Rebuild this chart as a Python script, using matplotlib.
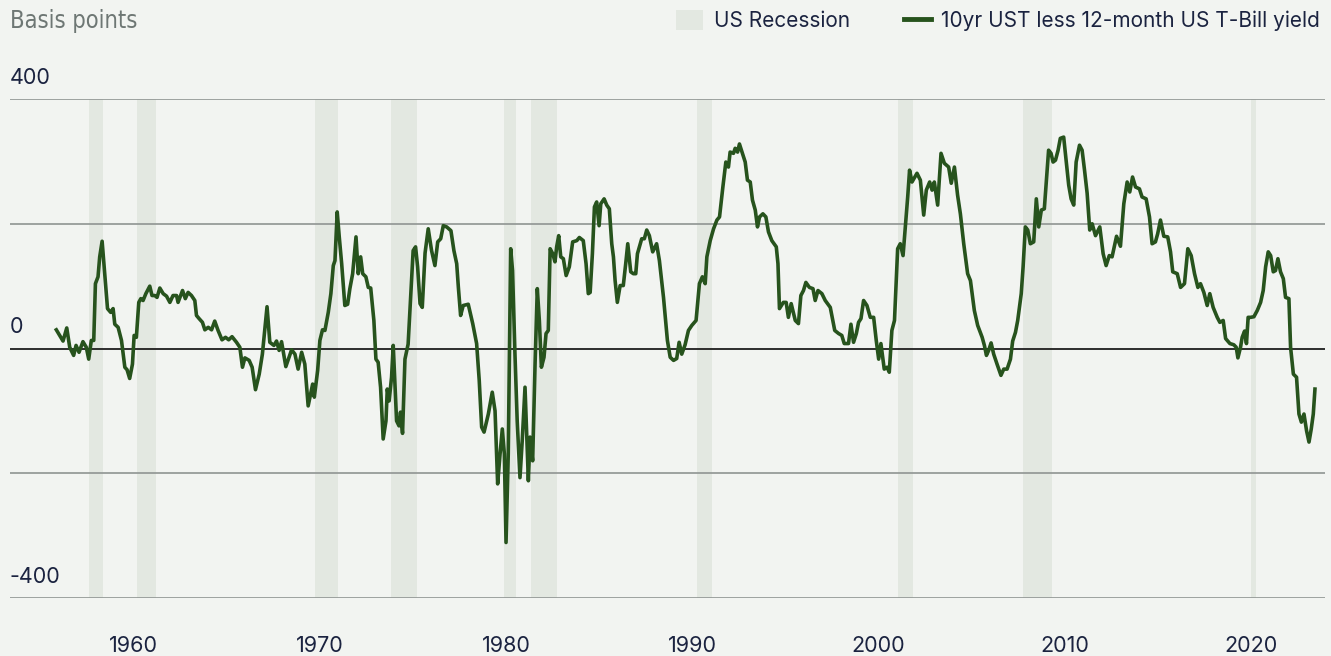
import numpy as np
import matplotlib
matplotlib.use("Agg")
import matplotlib.pyplot as plt
import matplotlib.transforms as mtransforms
from matplotlib.patches import Patch
from matplotlib.lines import Line2D

# -- DATA -- #
# 10yr UST less 12-month T-Bill yield, basis points (decimal year, value)
dates = [
    1955.84, 1956.2, 1956.4, 1956.56, 1956.77, 1956.9, 1957.06, 1957.27, 1957.45, 1957.58,
    1957.72, 1957.85, 1957.94, 1958.08, 1958.17, 1958.3, 1958.44, 1958.59, 1958.76, 1958.89,
    1958.98, 1959.16, 1959.34, 1959.52, 1959.64, 1959.78, 1959.93, 1960.02, 1960.14, 1960.27,
    1960.38, 1960.5, 1960.65, 1960.86, 1960.98, 1961.13, 1961.25, 1961.4, 1961.58, 1961.76,
    1961.94, 1962.11, 1962.3, 1962.38, 1962.62, 1962.77, 1962.92, 1963.1, 1963.28, 1963.37,
    1963.51, 1963.69, 1963.82, 1964.0, 1964.18, 1964.35, 1964.53, 1964.74, 1964.93, 1965.1,
    1965.28, 1965.52, 1965.7, 1965.84, 1965.97, 1966.2, 1966.36, 1966.54, 1966.74, 1966.91,
    1967.16, 1967.31, 1967.53, 1967.67, 1967.81, 1967.94, 1968.17, 1968.48, 1968.66, 1968.83,
    1969.02, 1969.19, 1969.37, 1969.61, 1969.7, 1969.88, 1970.0, 1970.14, 1970.27, 1970.45,
    1970.59, 1970.72, 1970.81, 1970.93, 1971.04, 1971.17, 1971.34, 1971.49, 1971.61, 1971.76,
    1971.94, 1972.06, 1972.19, 1972.3, 1972.47, 1972.6, 1972.73, 1972.9, 1973.01, 1973.13,
    1973.26, 1973.4, 1973.55, 1973.62, 1973.72, 1973.85, 1973.94, 1974.12, 1974.25, 1974.33,
    1974.44, 1974.57, 1974.74, 1974.92, 1975.01, 1975.14, 1975.25, 1975.38, 1975.5, 1975.65,
    1975.82, 1976.0, 1976.18, 1976.33, 1976.49, 1976.63, 1976.81, 1977.04, 1977.2, 1977.35,
    1977.44, 1977.56, 1977.7, 1977.97, 1978.21, 1978.42, 1978.56, 1978.69, 1978.82, 1979.05,
    1979.26, 1979.41, 1979.55, 1979.68, 1979.8, 1979.91, 1980.0, 1980.12, 1980.25, 1980.35,
    1980.48, 1980.6, 1980.75, 1980.87, 1981.02, 1981.11, 1981.2, 1981.29, 1981.43, 1981.56,
    1981.68, 1981.79, 1981.9, 1982.04, 1982.15, 1982.27, 1982.37, 1982.51, 1982.63, 1982.72,
    1982.83, 1982.94, 1983.08, 1983.23, 1983.4, 1983.58, 1983.8, 1983.94, 1984.15, 1984.3,
    1984.42, 1984.52, 1984.64, 1984.75, 1984.87, 1985.0, 1985.09, 1985.27, 1985.41, 1985.55,
    1985.68, 1985.77, 1985.86, 1985.98, 1986.13, 1986.3, 1986.43, 1986.54, 1986.7, 1986.84,
    1986.97, 1987.06, 1987.29, 1987.43, 1987.56, 1987.7, 1987.88, 1988.09, 1988.24, 1988.46,
    1988.67, 1988.82, 1989.0, 1989.17, 1989.3, 1989.44, 1989.62, 1989.8, 1989.98, 1990.21,
    1990.39, 1990.55, 1990.7, 1990.79, 1990.97, 1991.15, 1991.33, 1991.47, 1991.65, 1991.81,
    1991.95, 1992.04, 1992.22, 1992.31, 1992.44, 1992.54, 1992.7, 1992.85, 1992.97, 1993.12,
    1993.24, 1993.39, 1993.51, 1993.62, 1993.8, 1993.96, 1994.1, 1994.28, 1994.52, 1994.61,
    1994.69, 1994.9, 1995.05, 1995.17, 1995.32, 1995.54, 1995.71, 1995.84, 1995.98, 1996.11,
    1996.3, 1996.49, 1996.61, 1996.76, 1996.97, 1997.15, 1997.42, 1997.66, 1997.87, 1998.04,
    1998.17, 1998.4, 1998.53, 1998.67, 1998.82, 1998.94, 1999.07, 1999.21, 1999.39, 1999.57,
    1999.75, 1999.89, 2000.02, 2000.14, 2000.32, 2000.47, 2000.59, 2000.73, 2000.87, 2001.04,
    2001.18, 2001.33, 2001.45, 2001.58, 2001.68, 2001.81, 2002.08, 2002.26, 2002.44, 2002.58,
    2002.76, 2002.89, 2003.01, 2003.19, 2003.37, 2003.55, 2003.78, 2003.92, 2004.09, 2004.26,
    2004.41, 2004.59, 2004.8, 2004.95, 2005.16, 2005.34, 2005.58, 2005.7, 2005.81, 2005.93,
    2006.06, 2006.2, 2006.38, 2006.59, 2006.74, 2006.92, 2007.1, 2007.22, 2007.37, 2007.49,
    2007.68, 2007.78, 2007.9, 2008.03, 2008.17, 2008.35, 2008.49, 2008.62, 2008.76, 2008.92,
    2009.07, 2009.15, 2009.28, 2009.39, 2009.52, 2009.66, 2009.78, 2009.96, 2010.11, 2010.23,
    2010.36, 2010.5, 2010.63, 2010.81, 2010.95, 2011.08, 2011.22, 2011.36, 2011.49, 2011.67,
    2011.9, 2012.08, 2012.24, 2012.41, 2012.56, 2012.8, 2013.01, 2013.19, 2013.37, 2013.51,
    2013.66, 2013.82, 2014.03, 2014.17, 2014.39, 2014.57, 2014.71, 2014.89, 2015.01, 2015.16,
    2015.34, 2015.55, 2015.7, 2015.82, 2016.06, 2016.24, 2016.45, 2016.63, 2016.81, 2016.99,
    2017.17, 2017.31, 2017.49, 2017.67, 2017.81, 2017.99, 2018.21, 2018.35, 2018.53, 2018.66,
    2018.89, 2019.1, 2019.23, 2019.32, 2019.46, 2019.55, 2019.68, 2019.78, 2019.87, 2020.0,
    2020.18, 2020.36, 2020.54, 2020.68, 2020.81, 2020.95, 2021.08, 2021.22, 2021.34, 2021.47,
    2021.61, 2021.76, 2021.88, 2022.06, 2022.15, 2022.3, 2022.47, 2022.6, 2022.73, 2022.87,
    2023.01, 2023.14, 2023.26, 2023.37, 2023.46,
]
spread_bp = [
    30, 12, 33, 2, -11, 5, -6, 11, 2, -17,
    13, 13, 104, 115, 147, 172, 120, 64, 58, 64,
    39, 34, 13, -30, -34, -48, -25, 21, 18, 74,
    80, 77, 88, 100, 85, 85, 82, 97, 88, 84,
    74, 85, 85, 74, 93, 80, 90, 85, 77, 53,
    48, 42, 30, 34, 30, 44, 29, 14, 18, 14,
    19, 10, 2, -30, -15, -19, -30, -66, -41, -9,
    67, 10, 5, 12, -3, 11, -29, -2, -9, -33,
    -6, -25, -92, -57, -78, -35, 13, 30, 29, 58,
    88, 133, 141, 219, 179, 136, 69, 71, 96, 120,
    179, 120, 147, 120, 115, 98, 97, 45, -17, -22,
    -62, -145, -116, -65, -84, -46, 5, -116, -124, -102,
    -136, -17, 7, 109, 157, 163, 131, 72, 66, 153,
    192, 157, 133, 171, 176, 197, 195, 189, 157, 136,
    98, 53, 69, 71, 40, 8, -51, -126, -134, -105,
    -70, -100, -217, -169, -129, -169, -311, -169, 160, 125,
    -9, -116, -207, -148, -62, -137, -212, -142, -180, -25,
    96, 45, -30, -14, 24, 29, 160, 152, 139, 163,
    181, 147, 144, 117, 131, 171, 173, 178, 173, 136,
    88, 90, 152, 227, 235, 197, 232, 240, 230, 224,
    168, 147, 109, 74, 101, 101, 136, 168, 123, 120,
    120, 152, 176, 176, 190, 181, 155, 168, 141, 82,
    13, -14, -19, -16, 10, -9, 6, 29, 37, 45,
    104, 115, 104, 147, 173, 192, 206, 211, 259, 299,
    291, 315, 313, 321, 315, 328, 313, 299, 270, 267,
    238, 222, 195, 211, 216, 211, 187, 173, 163, 136,
    64, 74, 74, 50, 72, 45, 40, 85, 93, 106,
    98, 96, 77, 93, 88, 77, 66, 29, 24, 21,
    8, 8, 39, 10, 24, 42, 48, 77, 69, 50,
    50, 13, -17, 8, -33, -30, -38, 29, 45, 160,
    168, 149, 195, 243, 286, 267, 281, 270, 214, 254,
    267, 254, 267, 230, 313, 297, 291, 265, 291, 246,
    216, 168, 120, 109, 61, 37, 18, 5, -11, -3,
    9, -9, -25, -43, -33, -33, -17, 12, 26, 45,
    88, 131, 195, 190, 168, 171, 240, 195, 222, 224,
    286, 318, 313, 299, 302, 318, 337, 339, 297, 262,
    240, 230, 299, 326, 318, 286, 249, 190, 200, 181,
    195, 152, 133, 149, 147, 180, 164, 232, 267, 251,
    275, 259, 256, 243, 240, 211, 168, 171, 184, 206,
    180, 179, 155, 123, 120, 98, 104, 160, 149, 120,
    98, 104, 90, 69, 88, 66, 50, 42, 45, 16,
    8, 6, 2, -15, 2, 18, 28, 8, 50, 50,
    51, 61, 74, 93, 131, 155, 149, 123, 125, 144,
    123, 112, 82, 80, 2, -41, -46, -105, -118, -105,
    -132, -150, -129, -105, -65,
]

# US recessions (start, end) in decimal years
rec_start = [1957.58, 1960.2, 1969.73, 1973.82, 1979.9, 1981.34, 1990.28, 2001.04, 2007.76, 2020.05]
rec_end = [1958.37, 1961.22, 1970.95, 1975.2, 1980.52, 1982.72, 1991.08, 2001.84, 2009.34, 2020.27]

year_ticks = [1960, 1970, 1980, 1990, 2000, 2010, 2020]
y_labels = [400, 0, -400]
grid_levels = [400, 200, -200, -400]

# -- STYLE -- #
bg = "#f2f4f1"
line_col = "#27531d"
band_col = "#e3e8e1"
text_col = "#1b2340"
font = ["Inter", "DejaVu Sans"]

fig = plt.figure(figsize=(13.31, 6.56), dpi=100, facecolor=bg)
ax = fig.add_axes([0.0075, 0.0884, 0.988, 0.7606], facecolor=bg)

for s, e in zip(rec_start, rec_end):
    ax.axvspan(s, e, color=band_col, lw=0, zorder=0)

for g in grid_levels:
    ax.axhline(g, color="#8f9592", lw=1.2, zorder=1)
ax.axhline(0, color="#1e1e1e", lw=1.3, zorder=1)

ax.plot(dates, spread_bp, color=line_col, lw=2.6, solid_joinstyle="round", zorder=3)

ax.set_xlim(1953.35, 2024.0)
ax.set_ylim(-400, 400)
for sp in ax.spines.values():
    sp.set_visible(False)

ax.set_yticks([])
ax.set_xticks(year_ticks)
ax.set_xticklabels([str(y) for y in year_ticks], fontsize=15.5, color=text_col, family=font)
ax.tick_params(axis="x", length=0, pad=27)

# value labels sit just above their gridlines
trans = mtransforms.blended_transform_factory(ax.transAxes, ax.transData)
for v in y_labels:
    ax.annotate(str(v), xy=(0, v), xycoords=trans, xytext=(0, 11), textcoords="offset points",
                ha="left", va="baseline", fontsize=15.5, color=text_col, family=font)

fig.text(0.0075, 0.968, "Basis points", ha="left", va="center", fontsize=17,
         color="#6e7774", family=["Liberation Sans Narrow", "DejaVu Sans"], stretch="condensed")

handles = [Patch(facecolor=band_col, edgecolor="none", label="US Recession"),
           Line2D([], [], color=line_col, lw=3.5, label="10yr UST less 12-month US T-Bill yield")]
leg = fig.legend(handles=handles, loc="upper right", bbox_to_anchor=(1.006, 1.013), ncol=2,
                 frameon=False, handlelength=1.3, handleheight=1.1, handletextpad=0.5,
                 columnspacing=2.6, prop={"family": font, "size": 15})
for t in leg.get_texts():
    t.set_color(text_col)

fig.savefig("out.png", dpi=100, facecolor=bg)
